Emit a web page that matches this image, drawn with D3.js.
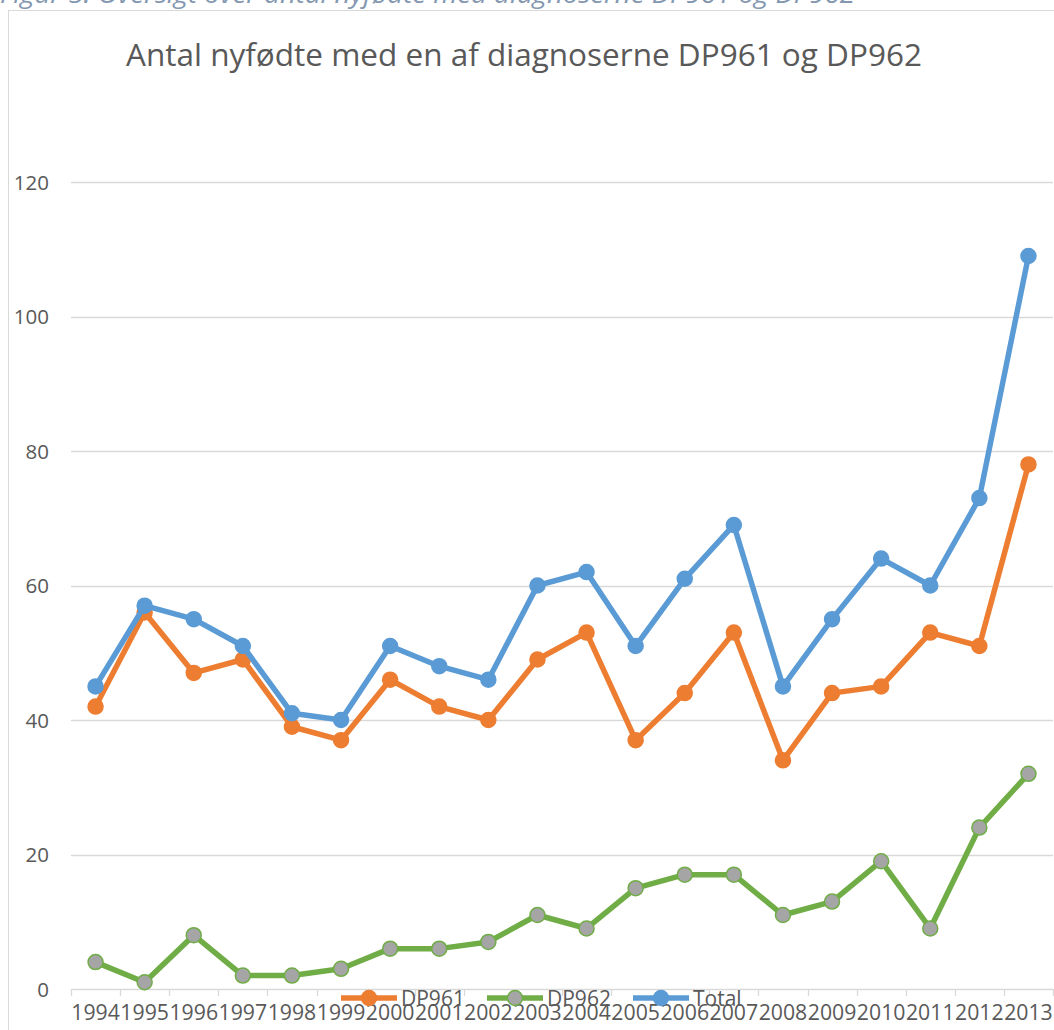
<!DOCTYPE html>
<html>
<head>
<meta charset="utf-8">
<script src="https://cdn.jsdelivr.net/npm/d3@7"></script>
<style>
  html, body { margin: 0; padding: 0; background: #fff; }
  svg { display: block; font-family: "Open Sans", sans-serif; }
</style>
</head>
<body>
<svg id="chart"></svg>
<script>
const years = ["1994","1995","1996","1997","1998","1999","2000","2001","2002","2003",
               "2004","2005","2006","2007","2008","2009","2010","2011","2012","2013"];
const dp961 = [42, 56, 47, 49, 39, 37, 46, 42, 40, 49, 53, 37, 44, 53, 34, 44, 45, 53, 51, 78];
const dp962 = [4, 1, 8, 2, 2, 3, 6, 6, 7, 11, 9, 15, 17, 17, 11, 13, 19, 9, 24, 32];
const total = [45, 57, 55, 51, 41, 40, 51, 48, 46, 60, 62, 51, 61, 69, 45, 55, 64, 60, 73, 109];
const yTicks = [0, 20, 40, 60, 80, 100, 120];

const series = [
  { name: "DP961", values: dp961, color: "#ED7D31", fill: "#ED7D31" },
  { name: "DP962", values: dp962, color: "#70AD47", fill: "#A5A5A5" },
  { name: "Total", values: total, color: "#5B9BD5", fill: "#5B9BD5" }
];

const W = 1054, H = 1030;
const plot = { left: 71, right: 1053, top: 182, bottom: 989 };

const svg = d3.select("#chart").attr("width", W).attr("height", H);

// caption above the chart frame (cut off at the top)
svg.append("text")
  .attr("x", 0).attr("y", 3)
  .attr("font-size", 26).attr("font-style", "italic")
  .attr("fill", "#8497B0")
  .attr("textLength", 855)
  .attr("lengthAdjust", "spacingAndGlyphs")
  .text("Figur 5: Oversigt over antal nyfødte med diagnoserne DP961 og DP962");

// chart frame
svg.append("rect")
  .attr("x", 8.5).attr("y", 10.5)
  .attr("width", 1100).attr("height", 1100)
  .attr("fill", "#fff").attr("stroke", "#D9D9D9");

svg.append("text")
  .attr("x", 524).attr("y", 66)
  .attr("text-anchor", "middle")
  .attr("font-size", 31.5)
  .attr("fill", "#595959")
  .text("Antal nyfødte med en af diagnoserne DP961 og DP962");

const x = d3.scaleBand().domain(years).range([plot.left, plot.right]);
const y = d3.scaleLinear().domain([0, 120]).range([plot.bottom, plot.top]);

// gridlines
svg.append("g")
  .selectAll("line")
  .data(yTicks.filter(d => d > 0))
  .join("line")
  .attr("x1", plot.left).attr("x2", plot.right)
  .attr("y1", d => Math.round(y(d)) + 0.5).attr("y2", d => Math.round(y(d)) + 0.5)
  .attr("stroke", "#D9D9D9").attr("stroke-width", 1.3);

// y axis labels
const yAxis = d3.axisLeft(y).tickValues(yTicks).tickSize(0).tickPadding(0);
svg.append("g")
  .attr("transform", "translate(49,0)")
  .call(yAxis)
  .call(g => g.select(".domain").remove())
  .selectAll("text")
  .attr("font-size", 20.5)
  .attr("font-family", "Open Sans, sans-serif")
  .attr("fill", "#595959")
  .attr("dy", "0.35em");

// x axis
const xAxis = d3.axisBottom(x).tickSize(0).tickPadding(0);
const gx = svg.append("g")
  .attr("transform", `translate(0,${plot.bottom})`)
  .call(xAxis);
gx.select(".domain").remove();
gx.selectAll("text")
  .attr("font-size", 21.5)
  .attr("font-family", "Open Sans, sans-serif")
  .attr("fill", "#595959")
  .attr("textLength", x.bandwidth() - 0.5)
  .attr("lengthAdjust", "spacingAndGlyphs")
  .attr("y", 31)
  .attr("dy", 0);
gx.append("line")
  .attr("x1", plot.left).attr("x2", plot.right)
  .attr("y1", 0.5).attr("y2", 0.5)
  .attr("stroke", "#D9D9D9").attr("stroke-width", 1.3);
gx.selectAll(".sep")
  .data(years.concat(["end"]))
  .join("line")
  .attr("class", "sep")
  .attr("x1", (d, i) => Math.round(plot.left + i * x.bandwidth()) + 0.5)
  .attr("x2", (d, i) => Math.round(plot.left + i * x.bandwidth()) + 0.5)
  .attr("y1", 0).attr("y2", 7)
  .attr("stroke", "#D9D9D9").attr("stroke-width", 1.3);

// lines and markers
const cx = d => x(d) + x.bandwidth() / 2;
const line = d3.line().x((d, i) => cx(years[i])).y(d => y(d));

series.forEach(s => {
  svg.append("path")
    .datum(s.values)
    .attr("d", line)
    .attr("fill", "none")
    .attr("stroke", s.color)
    .attr("stroke-width", 5.5)
    .attr("stroke-linejoin", "round");
  svg.append("g")
    .selectAll("circle")
    .data(s.values)
    .join("circle")
    .attr("cx", (d, i) => cx(years[i]))
    .attr("cy", d => y(d))
    .attr("r", 7.5)
    .attr("fill", s.fill)
    .attr("stroke", s.color)
    .attr("stroke-width", 1.5);
});

// legend
const legend = svg.append("g").attr("transform", "translate(341,998)");
const legendX = [0, 146, 292];
series.forEach((s, i) => {
  const g = legend.append("g").attr("transform", `translate(${legendX[i]},0)`);
  g.append("line")
    .attr("x1", 0).attr("x2", 56).attr("y1", 0).attr("y2", 0)
    .attr("stroke", s.color).attr("stroke-width", 5.5);
  g.append("circle")
    .attr("cx", 28).attr("cy", 0).attr("r", 7.5)
    .attr("fill", s.fill).attr("stroke", s.color).attr("stroke-width", 1.5);
  g.append("text")
    .attr("x", 60).attr("y", 8)
    .attr("font-size", 21)
    .attr("fill", "#595959")
    .text(s.name);
});
</script>
</body>
</html>
